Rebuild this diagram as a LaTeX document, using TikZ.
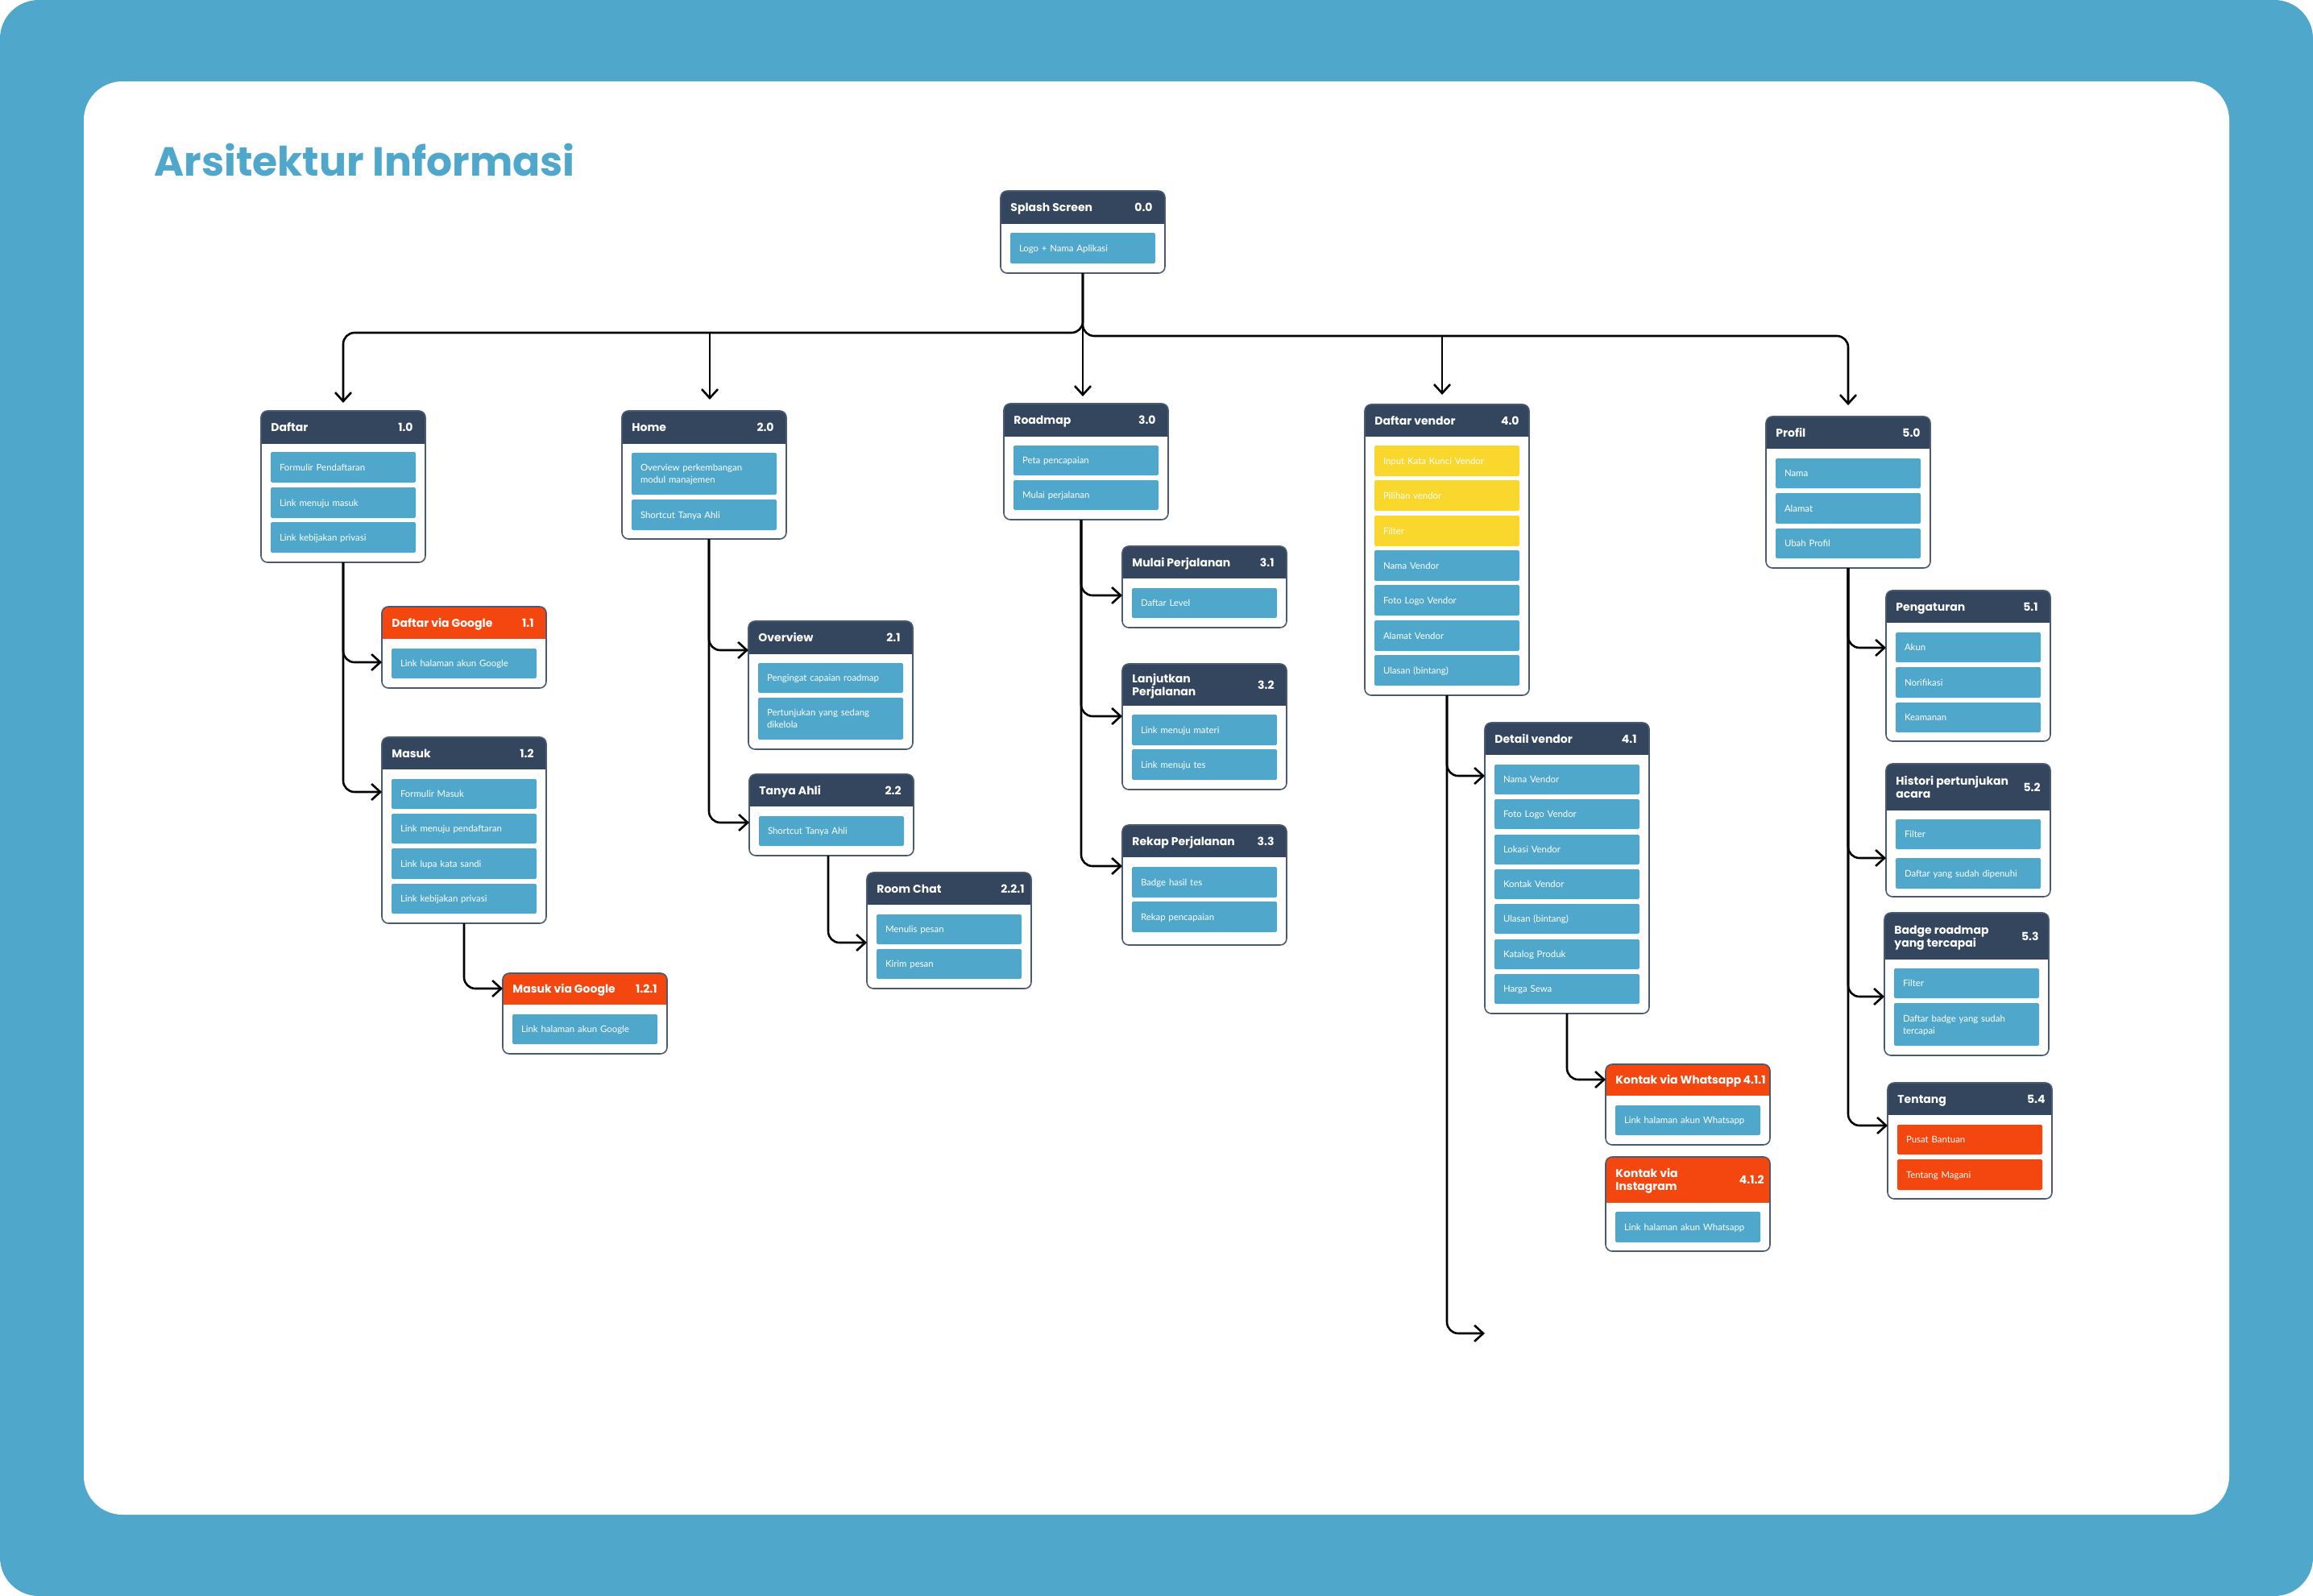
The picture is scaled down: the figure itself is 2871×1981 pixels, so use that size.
\documentclass[tikz,border=0pt]{standalone}
\usepackage{fontspec}
\setmainfont{Poppins}
\newfontfamily\itemfont{Lato}
\usetikzlibrary{arrows.meta}
\definecolor{bgblue}{HTML}{4FA8CC}
\definecolor{navy}{HTML}{34455E}
\definecolor{orng}{HTML}{F4470F}
\definecolor{yel}{HTML}{FAD72C}
\definecolor{itblue}{HTML}{4FA8CC}
\definecolor{bord}{HTML}{4A5A70}
\newif\iftwoline
\tikzset{
  cardbg/.style={fill=white, minimum width=102pt, inner sep=0pt, outer sep=0pt},
  cardline/.style={draw=bord, line width=0.8pt, rounded corners=4pt},
  headtxt/.style={text=white, inner sep=0pt, font=\bfseries\fontsize{7}{8}\selectfont, align=left, text height=5pt, text depth=0pt},
  itembox/.style={minimum width=90pt, text width=79pt, inner xsep=5.5pt, inner ysep=0pt, outer sep=0pt, align=left,
     text=white, font=\itemfont\fontsize{5.7}{7.6}\selectfont, text height=4.1pt, text depth=0pt, rounded corners=0.8pt},
  twol/.style={text depth=7.6pt},
  conn/.style={draw=black, line width=1.3pt, rounded corners=7pt, -{Straight Barb[length=5.5pt,width=10pt]}},
  titletxt/.style={text=bgblue, inner sep=0pt, font=\bfseries\fontsize{25.2}{28}\selectfont}
}
% card: name, left, top, bottom, header bottom, colour, title, number, number inset
\newcommand\card[9]{%
  \node[cardbg, minimum height={(#4-#3)*0.5pt}, anchor=north west] (#1) at (#2,#3) {};
  \begin{scope}
    \clip[rounded corners=4pt] (#1.north west) rectangle (#1.south east);
    \fill[#6] (#1.north west) rectangle (#2+204,#5);
  \end{scope}
  \draw[cardline] (#1.north west) rectangle (#1.south east);
  \iftwoline
    \node[headtxt, text height=13pt, anchor=west] (#1-t) at (#2+12,{(#3+#5)/2}) {#7};
  \else
    \node[headtxt, anchor=west] (#1-t) at (#2+12,{(#3+#5)/2}) {#7};
  \fi
  \node[headtxt, anchor=east] (#1-n) at (#2+204-#9,{(#3+#5)/2}) {#8};
  \global\twolinefalse
}
% item: name, card left, top, bottom, colour (+options), text
\newcommand\itm[6]{%
  \node[itembox, fill=#5, minimum height={(#4-#3)*0.5pt}, anchor=north west] (#1) at (#2+12,#3) {#6};
}
\begin{document}
\begin{tikzpicture}[x=0.5pt,y=-0.5pt]
\useasboundingbox (0,0) rectangle (2871,1981);
\fill[white] (0,0) rectangle (2871,1981);
\fill[bgblue, rounded corners=24pt] (0,0) rectangle (2871,1981);
\fill[white, rounded corners=24pt] (104,101) rectangle (2767,1880);

\node[titletxt, anchor=base west] (title) at (191,218) {Arsitektur Informasi};

% ---- cards ----
\card{s0}{1242}{237}{339}{278}{navy}{Splash Screen}{0.0}{15}
\itm{s0a}{1242}{289}{327}{itblue}{Logo + Nama Aplikasi}

\card{c10}{324}{510}{698}{551}{navy}{Daftar}{1.0}{15}
\itm{c10a}{324}{561}{599}{itblue}{Formulir Pendaftaran}
\itm{c10b}{324}{605}{643}{itblue}{Link menuju masuk}
\itm{c10c}{324}{648}{686}{itblue}{Link kebijakan privasi}

\card{c11}{474}{753}{854}{793}{orng}{Daftar via Google}{1.1}{15}
\itm{c11a}{474}{805}{842}{itblue}{Link halaman akun Google}

\card{c12}{474}{915}{1146}{955}{navy}{Masuk}{1.2}{15}
\itm{c12a}{474}{967}{1004}{itblue}{Formulir Masuk}
\itm{c12b}{474}{1010}{1047}{itblue}{Link menuju pendaftaran}
\itm{c12c}{474}{1053}{1091}{itblue}{Link lupa kata sandi}
\itm{c12d}{474}{1097}{1134}{itblue}{Link kebijakan privasi}

\card{c121}{624}{1208}{1308}{1247}{orng}{Masuk via Google}{1.2.1}{12}
\itm{c121a}{624}{1259}{1296}{itblue}{Link halaman akun Google}

\card{c20}{772}{510}{669}{551}{navy}{Home}{2.0}{15}
\itm{c20a}{772}{562}{614}{itblue,twol}{Overview perkembangan\\modul manajemen}
\itm{c20b}{772}{620}{658}{itblue}{Shortcut Tanya Ahli}

\card{c21}{929}{771}{930}{812}{navy}{Overview}{2.1}{15}
\itm{c21a}{929}{823}{860}{itblue}{Pengingat capaian roadmap}
\itm{c21b}{929}{866}{918}{itblue,twol}{Pertunjukan yang sedang\\dikelola}

\card{c22}{930}{961}{1062}{1001}{navy}{Tanya Ahli}{2.2}{15}
\itm{c22a}{930}{1013}{1050}{itblue}{Shortcut Tanya Ahli}

\card{c221}{1076}{1083}{1227}{1123}{navy}{Room Chat}{2.2.1}{8}
\itm{c221a}{1076}{1135}{1172}{itblue}{Menulis pesan}
\itm{c221b}{1076}{1178}{1215}{itblue}{Kirim pesan}

\card{c30}{1246}{501}{645}{542}{navy}{Roadmap}{3.0}{15}
\itm{c30a}{1246}{553}{590}{itblue}{Peta pencapaian}
\itm{c30b}{1246}{596}{633}{itblue}{Mulai perjalanan}

\card{c31}{1393}{678}{779}{718}{navy}{Mulai Perjalanan}{3.1}{15}
\itm{c31a}{1393}{730}{767}{itblue}{Daftar Level}

\twolinetrue
\card{c32}{1393}{824}{980}{876}{navy}{Lanjutkan\\Perjalanan}{3.2}{15}
\itm{c32a}{1393}{887}{925}{itblue}{Link menuju materi}
\itm{c32b}{1393}{930}{968}{itblue}{Link menuju tes}

\card{c33}{1393}{1024}{1173}{1064}{navy}{Rekap Perjalanan}{3.3}{15}
\itm{c33a}{1393}{1076}{1114}{itblue}{Badge hasil tes}
\itm{c33b}{1393}{1119}{1157}{itblue}{Rekap pencapaian}

\card{c40}{1694}{502}{863}{542}{navy}{Daftar vendor}{4.0}{12}
\itm{c40a}{1694}{553}{591}{yel}{Input Kata Kunci Vendor}
\itm{c40b}{1694}{596}{634}{yel}{Pilihan vendor}
\itm{c40c}{1694}{640}{678}{yel}{Filter}
\itm{c40d}{1694}{683}{721}{itblue}{Nama Vendor}
\itm{c40e}{1694}{726}{764}{itblue}{Foto Logo Vendor}
\itm{c40f}{1694}{770}{808}{itblue}{Alamat Vendor}
\itm{c40g}{1694}{813}{851}{itblue}{Ulasan (bintang)}

\card{c41}{1843}{897}{1258}{937}{navy}{Detail vendor}{4.1}{15}
\itm{c41a}{1843}{949}{986}{itblue}{Nama Vendor}
\itm{c41b}{1843}{992}{1029}{itblue}{Foto Logo Vendor}
\itm{c41c}{1843}{1036}{1073}{itblue}{Lokasi Vendor}
\itm{c41d}{1843}{1079}{1116}{itblue}{Kontak Vendor}
\itm{c41e}{1843}{1122}{1159}{itblue}{Ulasan (bintang)}
\itm{c41f}{1843}{1166}{1203}{itblue}{Katalog Produk}
\itm{c41g}{1843}{1209}{1246}{itblue}{Harga Sewa}

\card{c411}{1993}{1321}{1421}{1360}{orng}{Kontak via Whatsapp}{4.1.1}{5}
\itm{c411a}{1993}{1372}{1409}{itblue}{Link halaman akun Whatsapp}

\twolinetrue
\card{c412}{1993}{1436}{1553}{1493}{orng}{Kontak via\\Instagram}{4.1.2}{7}
\itm{c412a}{1993}{1504}{1542}{itblue}{Link halaman akun Whatsapp}

\card{c50}{2192}{517}{705}{557}{navy}{Profil}{5.0}{12}
\itm{c50a}{2192}{569}{606}{itblue}{Nama}
\itm{c50b}{2192}{612}{650}{itblue}{Alamat}
\itm{c50c}{2192}{656}{693}{itblue}{Ubah Profil}

\card{c51}{2341}{733}{920}{773}{navy}{Pengaturan}{5.1}{15}
\itm{c51a}{2341}{785}{822}{itblue}{Akun}
\itm{c51b}{2341}{828}{866}{itblue}{Norifikasi}
\itm{c51c}{2341}{872}{909}{itblue}{Keamanan}

\twolinetrue
\card{c52}{2341}{948}{1113}{1006}{navy}{Histori pertunjukan\\acara}{5.2}{12}
\itm{c52a}{2341}{1017}{1054}{itblue}{Filter}
\itm{c52b}{2341}{1065}{1103}{itblue}{Daftar yang sudah dipenuhi}

\twolinetrue
\card{c53}{2339}{1133}{1310}{1191}{navy}{Badge roadmap\\yang tercapai}{5.3}{12}
\itm{c53a}{2339}{1202}{1239}{itblue}{Filter}
\itm{c53b}{2339}{1245}{1298}{itblue,twol}{Daftar badge yang sudah\\tercapai}

\card{c54}{2343}{1344}{1488}{1384}{navy}{Tentang}{5.4}{8}
\itm{c54a}{2343}{1396}{1433}{orng}{Pusat Bantuan}
\itm{c54b}{2343}{1439}{1477}{orng}{Tentang Magani}

% ---- top level connectors ----
\coordinate (busL) at (881,413);
\coordinate (busR) at (1790,417);
\coordinate (dvEnd) at (1843,1655);
\draw[conn, shorten >=5pt] (s0.south) |- (busL) -| (c10.north);
\draw[conn, shorten >=7pt] (busL) -- (busL |- c20.north);
\draw[conn, shorten >=4.5pt] (s0.south) -- (s0.south |- c30.north);
\draw[conn, shorten >=7pt] (s0.south) |- (busR) -| (c50.north);
\draw[conn, shorten >=6pt] (busR) -- (busR |- c40.north);

% ---- child connectors ----
\draw[conn] (c10.south) |- ([yshift=-34.5pt]c11.north west);
\draw[conn] (c10.south) |- ([yshift=-34pt]c12.north west);
\draw[conn] (c12.south) |- ([yshift=-9.5pt]c121.north west);
\draw[conn] ([xshift=3pt]c20.south) |- ([yshift=-18pt]c21.north west);
\draw[conn] ([xshift=3pt]c20.south) |- ([yshift=-30pt]c22.north west);
\draw[conn] ([xshift=-2pt]c22.south) |- ([yshift=-43.5pt]c221.north west);
\draw[conn] ([xshift=-3pt]c30.south) |- ([yshift=-30.5pt]c31.north west);
\draw[conn] ([xshift=-3pt]c30.south) |- ([yshift=-32.5pt]c32.north west);
\draw[conn] ([xshift=-3pt]c30.south) |- ([yshift=-25.5pt]c33.north west);
\draw[conn] (c40.south) |- ([yshift=-33pt]c41.north west);
\draw[conn] (c40.south) |- (dvEnd);
\draw[conn] (c41.south) |- ([yshift=-9.5pt]c411.north west);
\draw[conn] (c50.south) |- ([yshift=-35.5pt]c51.north west);
\draw[conn] (c50.south) |- ([yshift=-58.5pt]c52.north west);
\draw[conn] (c50.south) |- ([yshift=-52pt]c53.north west);
\draw[conn] (c50.south) |- ([yshift=-26.5pt]c54.north west);
\end{tikzpicture}
\end{document}
